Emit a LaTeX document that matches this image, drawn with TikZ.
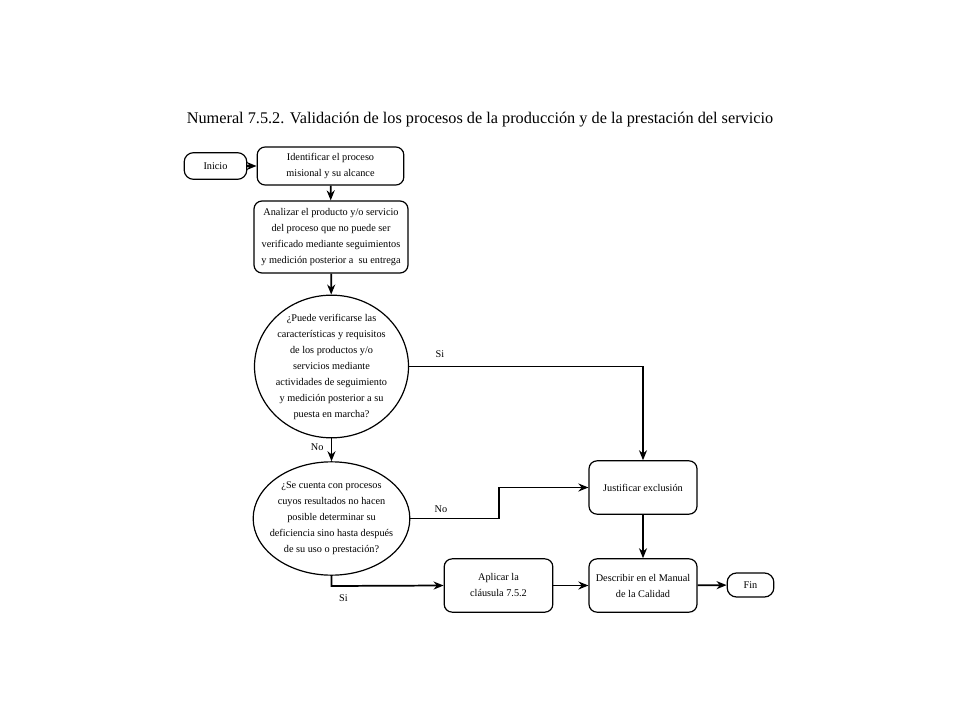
\documentclass[tikz,border=0pt]{standalone}
\usepackage{fontspec}
\setmainfont{Liberation Serif}
\usetikzlibrary{arrows.meta,shapes.geometric}
\begin{document}
\begin{tikzpicture}[x=0.75pt,y=-0.75pt,
  txt/.style={align=center,font=\fontsize{7.7}{12}\selectfont,inner sep=0pt},
  box/.style={draw,rounded corners=6pt,line width=0.9pt,txt},
  term/.style={draw,rounded corners=7pt,line width=0.9pt,txt},
  dec/.style={draw,ellipse,line width=0.9pt,inner sep=0pt},
  arr/.style={-{Stealth[length=7.5pt,width=6pt]},line width=1.3pt},
  lab/.style={font=\fontsize{7.7}{10}\selectfont}]
\useasboundingbox (0,0) rectangle (960,720);
\node[font=\fontsize{12.2}{14}\selectfont] (title) at (480,120) {Numeral 7.5.2. Validación de los procesos de la producción y de la prestación del servicio};
\node[term,minimum width=47pt,minimum height=20pt] (inicio) at (215.5,166) {Inicio};
\node[box,minimum width=110pt,minimum height=28.5pt] (ident) at (330.5,166) {Identificar el proceso\\ misional y su alcance};
\node[box,minimum width=115.5pt,minimum height=54pt] (anal) at (331,237) {Analizar el producto y/o servicio\\del proceso que no puede ser\\verificado mediante seguimientos\\y medición posterior a\ \ su entrega};
\node[dec,minimum width=115.5pt,minimum height=107pt] (d1) at (331.5,366.5) {};
\node[txt] (t1) at (d1) {¿Puede verificarse las\\características y requisitos\\de los productos y/o\\servicios mediante\\actividades de seguimiento\\y medición posterior a su\\puesta en marcha?};
\node[dec,minimum width=117.5pt,minimum height=85pt] (d2) at (331.5,518.5) {};
\node[txt] (t2) at (d2) {¿Se cuenta con procesos\\cuyos resultados no hacen\\posible determinar su\\deficiencia sino hasta después\\de su uso o prestación?};
\node[box,minimum width=81pt,minimum height=40pt] (just) at (643,487.5) {Justificar exclusión};
\node[box,minimum width=81.5pt,minimum height=40pt] (apli) at (498.5,585.5) {Aplicar la\\cláusula 7.5.2};
\node[box,minimum width=81pt,minimum height=40pt] (desc) at (643,585.5) {Describir en el Manual\\de la Calidad};
\node[term,minimum width=35pt,minimum height=18pt] (fin) at (750.5,585) {Fin};
\coordinate (c1) at (643,366.5);
\coordinate (c2) at (499,518.5);
\coordinate (c3) at (499,487.5);
\coordinate (c4) at (331.5,586);
\draw[arr] (inicio) -- (ident);
\draw[arr] (ident) -- (anal);
\draw[arr] (anal) -- (d1);
\draw[arr] (d1) -- node[lab,left=2pt,pos=0.4]{No} (d2);
\draw[arr] (d1.east) -- (c1) -- (just.north);
\draw[arr] (d2.east) -- (c2) -- (c3) -- (just.west);
\draw[arr] (d2.south) -- (c4) -- (apli.west);
\draw[arr] (just) -- (desc);
\draw[arr] (apli) -- (desc);
\draw[arr] (desc) -- (fin);
\node[lab] (lsi1) at (440,354) {Si};
\node[lab] (lno2) at (441,509) {No};
\node[lab] (lsi2) at (343.5,598) {Si};
\end{tikzpicture}
\end{document}
